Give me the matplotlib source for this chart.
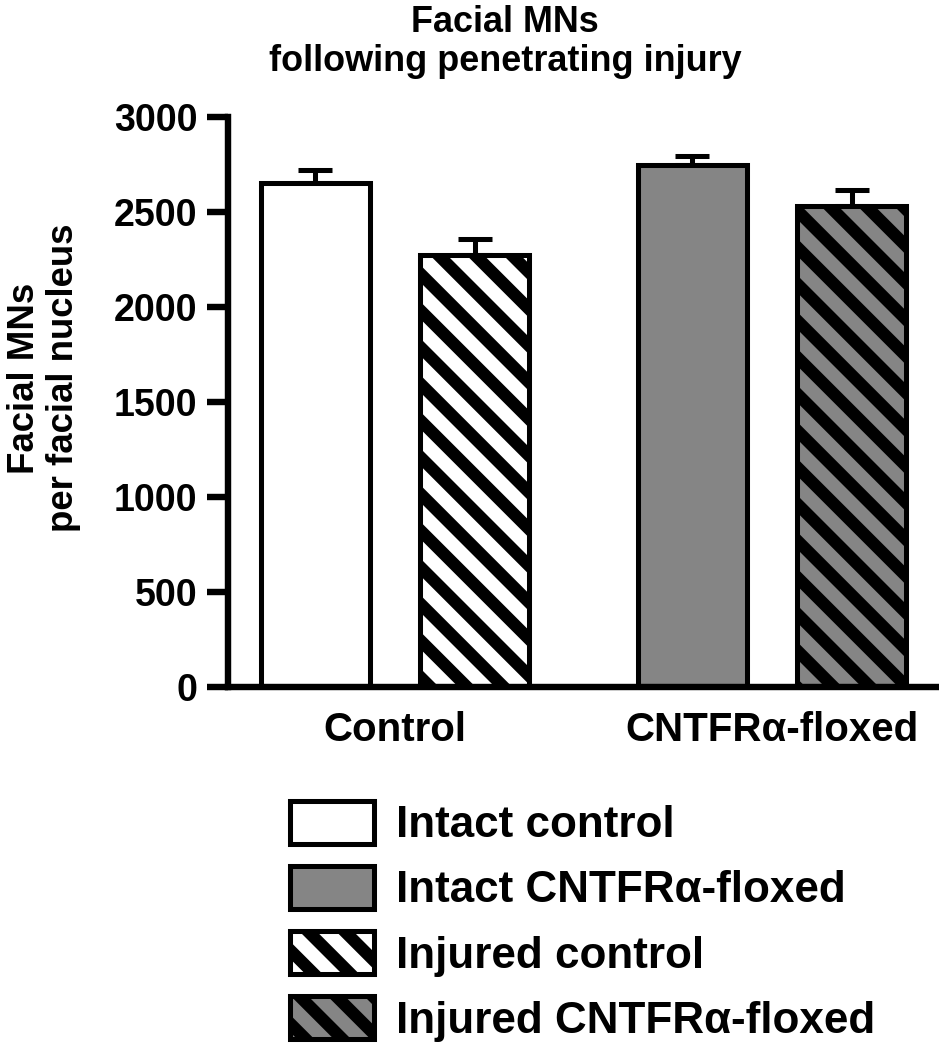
import matplotlib
matplotlib.use("Agg")
import matplotlib.pyplot as plt
import numpy as np
from matplotlib.patches import Patch

# data
groups = ["Control", "CNTFRα-floxed"]
legend_labels = ["Intact control", "Intact CNTFRα-floxed",
                 "Injured control", "Injured CNTFRα-floxed"]
bar_series = ["Intact control", "Injured control",
              "Intact CNTFRα-floxed", "Injured CNTFRα-floxed"]
means = [2655, 2275, 2745, 2530]
sems = [65, 85, 48, 87]
yticks = [0, 500, 1000, 1500, 2000, 2500, 3000]

GRAY = "#858585"
style = {
    "Intact control": ("white", ""),
    "Intact CNTFRα-floxed": (GRAY, ""),
    "Injured control": ("white", "\\\\"),
    "Injured CNTFRα-floxed": (GRAY, "\\\\"),
}

DPI = 220
W, H = 939, 1050
plt.rcParams["font.family"] = ["Liberation Sans", "DejaVu Sans"]
plt.rcParams["font.weight"] = "bold"
plt.rcParams["hatch.linewidth"] = 4.0
plt.rcParams["hatch.color"] = "black"

fig = plt.figure(figsize=(W / DPI, H / DPI), dpi=DPI)
ax = fig.add_axes([228 / W, 1 - 687 / H, 711 / W, 570 / H])

group_x = np.array([0.0, 2.37])
offsets = np.array([-0.5, 0.5])
xs = np.concatenate([g + offsets for g in group_x])

lw = 1.65
for x, m, name in zip(xs, means, bar_series):
    fc, hatch = style[name]
    ax.bar(x, m, width=0.69, facecolor=fc, edgecolor="black",
           hatch=hatch, linewidth=lw, zorder=2)

ax.errorbar(xs, means, yerr=[np.zeros(len(sems)), sems], fmt="none",
            ecolor="black", elinewidth=lw, capsize=5.5, capthick=lw, zorder=1)

ax.set_xlim(-1.05, 3.42)
ax.set_ylim(0, 3000)
ax.set_yticks(yticks)
ax.set_xticks(group_x)
ax.set_xticklabels(groups, fontsize=13.2, fontweight="bold")
ax.tick_params(axis="y", length=7, width=2.1, pad=3, labelsize=12.3)
ax.tick_params(axis="x", length=0, pad=8)
for s in ["top", "right"]:
    ax.spines[s].set_visible(False)
for s in ["left", "bottom"]:
    ax.spines[s].set_linewidth(2.1)
    ax.spines[s].set_capstyle("projecting")

fig.text(505 / W, 1 - 5 / H, "Facial MNs\nfollowing penetrating injury",
         ha="center", va="top", fontsize=11.8, fontweight="bold",
         linespacing=1.15)
fig.text(44 / W, 1 - 378 / H, "Facial MNs\nper facial nucleus",
         ha="center", va="center", rotation=90, fontsize=12,
         fontweight="bold", multialignment="center", linespacing=1.15)

handles = [Patch(facecolor=style[n][0], edgecolor="black", hatch=style[n][1],
                 linewidth=lw) for n in legend_labels]
fig.legend(handles, legend_labels, loc="upper left",
           bbox_to_anchor=(290 / W, 1 - 801 / H), frameon=False,
           fontsize=14.4, handlelength=1.9, handleheight=1.12,
           handletextpad=0.5, labelspacing=0.45, borderpad=0,
           borderaxespad=0)

fig.savefig("out.png", dpi=DPI)
